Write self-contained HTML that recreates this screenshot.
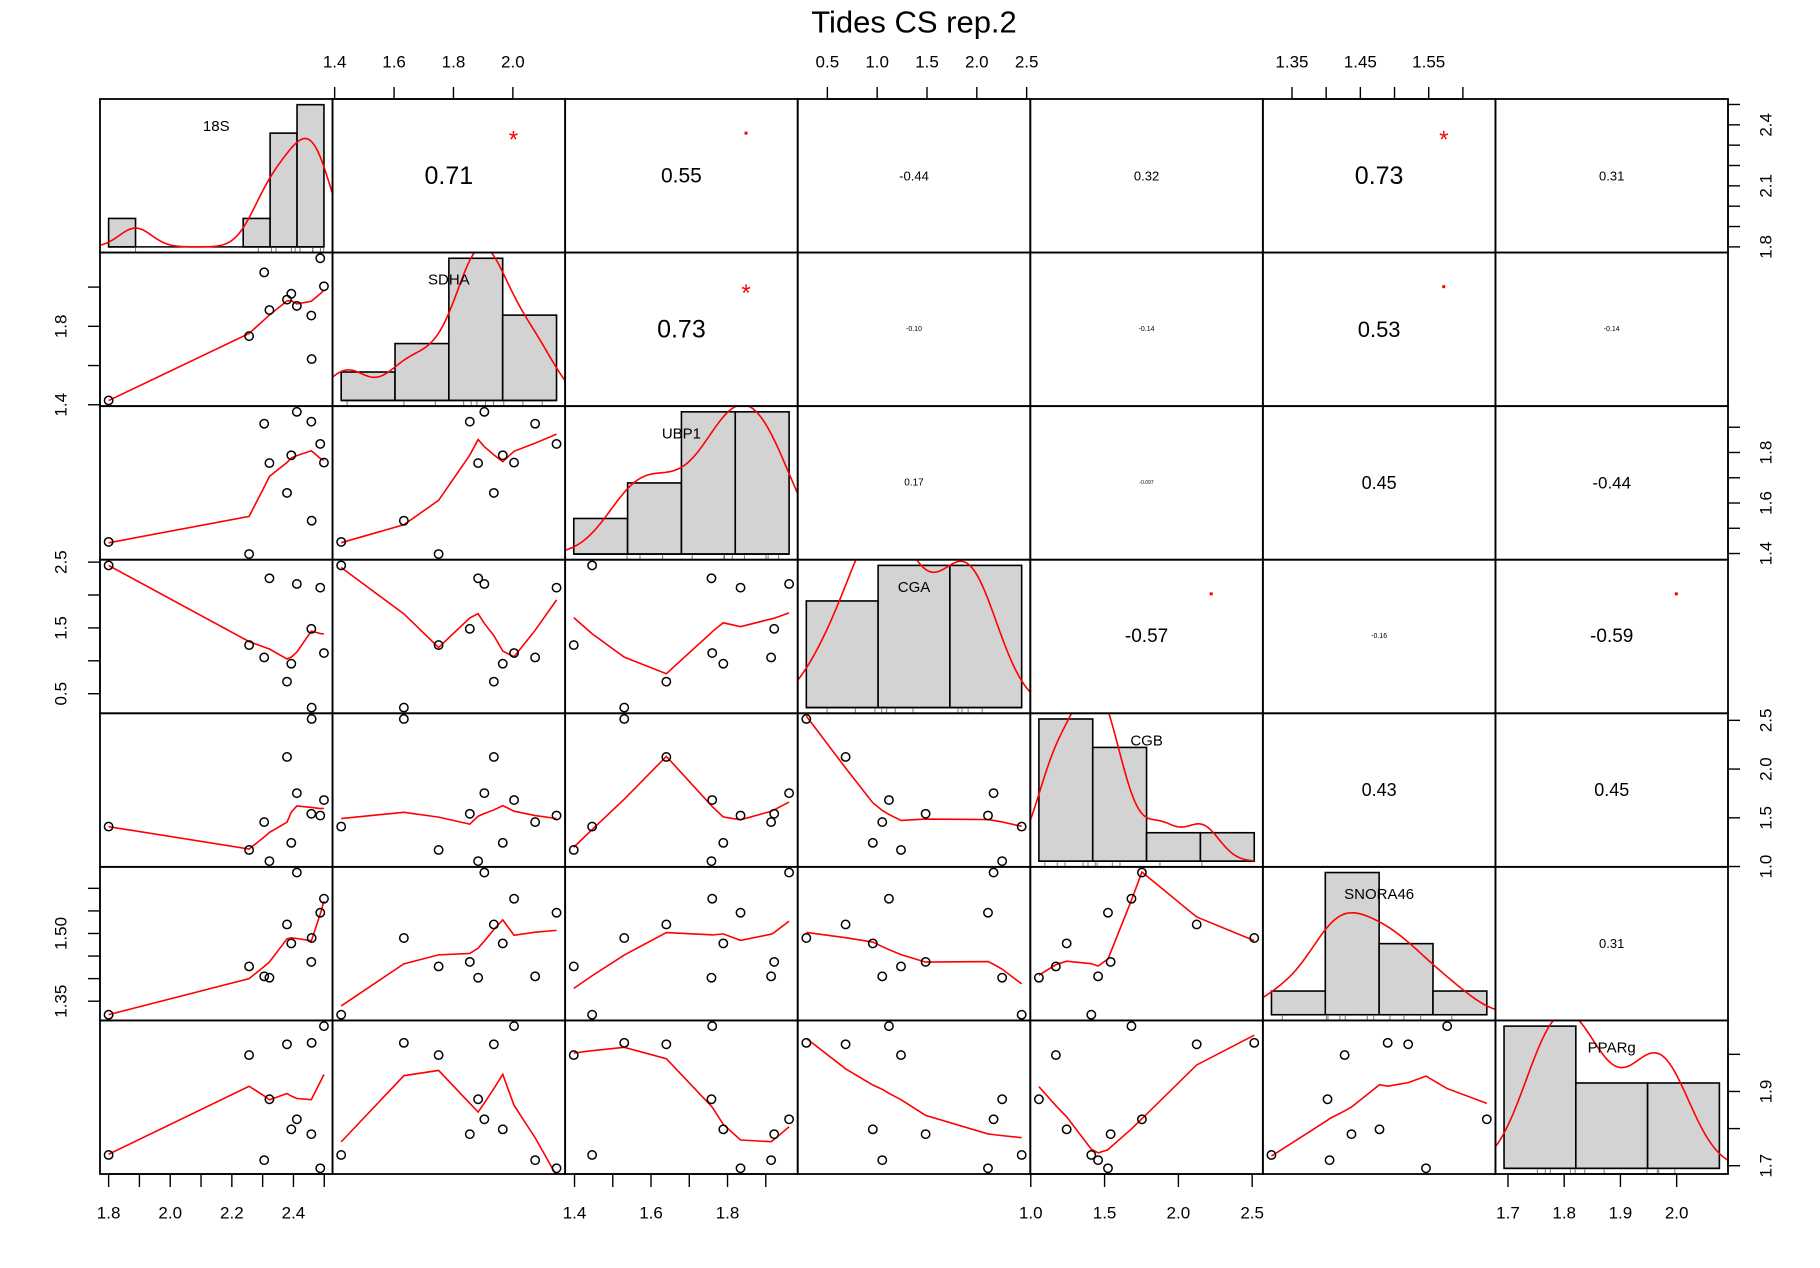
<!DOCTYPE html>
<html>
<head>
<meta charset="utf-8">
<style>
  html,body{margin:0;padding:0;background:#fff;}
  svg{display:block;}
  text{font-family:"Liberation Sans",Arial,sans-serif;}
</style>
</head>
<body>
<svg id="chart" width="1820" height="1268" viewBox="0 0 1820 1268" xmlns="http://www.w3.org/2000/svg">
  <rect x="0" y="0" width="1820" height="1268" fill="#fff"/>
  <text x="914" y="22" font-size="31" text-anchor="middle" dominant-baseline="central">Tides CS rep.2</text>
  <defs id="defs"></defs>
  <g id="panels"></g>
  <g id="axes"></g>
</svg>
<script>
// ---- data (11 samples) ----
const varNames = ["18S","SDHA","UBP1","CGA","CGB","SNORA46","PPARg"];
const v18S    = [1.80,2.256,2.305,2.322,2.379,2.393,2.411,2.458,2.459,2.487,2.499];
const vSDHA   = [1.422,1.750,2.075,1.883,1.936,1.966,1.904,1.855,1.633,2.147,2.004];
const vUBP1   = [1.446,1.398,1.914,1.758,1.640,1.789,1.961,1.922,1.530,1.834,1.760];
const vCGA    = [2.45,1.239,1.051,2.254,0.683,0.956,2.168,1.486,0.289,2.112,1.118];
const vCGB    = [1.41,1.17,1.456,1.055,2.124,1.243,1.753,1.541,2.514,1.523,1.682];
const vSNORA46= [1.320,1.427,1.405,1.402,1.520,1.478,1.635,1.437,1.490,1.546,1.577];
const vPPARg  = [1.729,1.998,1.715,1.879,2.027,1.798,1.825,1.785,2.031,1.693,2.076];
// histogram breaks
const breaks18S    = [1.7,1.8,1.9,2.0,2.1,2.2,2.3,2.4,2.5];
const breaksSDHA   = [1.4,1.6,1.8,2.0,2.2];
const breaksUBP1   = [1.2,1.4,1.6,1.8,2.0];
const breaksCGA    = [0,1,2,3];
const breaksCGB    = [1.0,1.5,2.0,2.5,3.0];
const breaksSNORA46= [1.3,1.4,1.5,1.6,1.7];
const breaksPPARg  = [1.6,1.8,2.0,2.2];
// correlation values printed in the upper triangle (row-major, i<j)
const corText = ["0.71","0.55","-0.44","0.32","0.73","0.31","0.73","-0.10","-0.14","0.53","-0.14","0.17","-0.097","0.45","-0.44","-0.57","-0.16","-0.59","0.43","0.45","0.31"];
const corSig  = ["*",".","","","*","","*","","",".","","","","","",".","",".","","",""];
// axis ticks
const ticks18S  = [1.8,1.9,2.0,2.1,2.2,2.3,2.4,2.5];
const ticksSDHA = [1.4,1.6,1.8,2.0];
const ticksUBP1 = [1.4,1.5,1.6,1.7,1.8,1.9];
const ticksCGA  = [0.5,1.0,1.5,2.0,2.5];
const ticksCGB  = [1.0,1.5,2.0,2.5];
const ticksSNORA= [1.35,1.40,1.45,1.50,1.55,1.60];
const ticksPPARg= [1.7,1.8,1.9,2.0];

// ---- styles / layout (not data) ----
const corFont = [25,21,13,13,25,13,25,7,7,22,7,10,5,18,17,19,7,19,18,18,13];
const X0=100, X1=1728, Y0=99, Y1=1174, N=7;
const W=(X1-X0)/N, H=(Y1-Y0)/N;
const NS="http://www.w3.org/2000/svg";
const svg=document.getElementById('chart');
const gP=document.getElementById('panels');
const gA=document.getElementById('axes');
const defs=document.getElementById('defs');
const data=[v18S,vSDHA,vUBP1,vCGA,vCGB,vSNORA46,vPPARg];
const brks=[breaks18S,breaksSDHA,breaksUBP1,breaksCGA,breaksCGB,breaksSNORA46,breaksPPARg];

function el(tag,attrs,parent){const e=document.createElementNS(NS,tag);for(const k in attrs)e.setAttribute(k,attrs[k]);(parent||gP).appendChild(e);return e;}
function usr(a){const mn=Math.min(...a),mx=Math.max(...a),r=mx-mn;return [mn-0.04*r,mx+0.04*r];}
const U=data.map(usr);
function px(j,v){const u=U[j];return X0+j*W+(v-u[0])/(u[1]-u[0])*W;}
function py(i,v){const u=U[i];return Y0+(i+1)*H-(v-u[0])/(u[1]-u[0])*H;}

function lowess(x,y,f,iter){
  const n=x.length;const idx=[...Array(n).keys()].sort((a,b)=>x[a]-x[b]);
  const xs=idx.map(k=>x[k]),yv=idx.map(k=>y[k]);
  const ns=Math.max(2,Math.min(n,Math.floor(f*n+1e-5)));
  const range=xs[n-1]-xs[0];
  let rw=new Array(n).fill(1),ys=new Array(n).fill(0);
  for(let it=0;it<=iter;it++){
    let nl=0,nr=ns-1;
    for(let i=0;i<n;i++){
      while(nr<n-1 && xs[i]-xs[nl]>xs[nr+1]-xs[i]){nl++;nr++;}
      const h=Math.max(xs[i]-xs[nl],xs[nr]-xs[i]);
      const h9=0.999*h,h1=0.001*h;
      const w=new Array(n).fill(0);let a=0;
      for(let j=0;j<n;j++){const r=Math.abs(xs[j]-xs[i]);
        if(r<=h9){let ww=r<=h1?1:Math.pow(1-Math.pow(r/h,3),3);w[j]=ww*rw[j];a+=w[j];}}
      if(a<=0){ys[i]=yv[i];continue;}
      for(let j=0;j<n;j++)w[j]/=a;
      if(h>0){let m=0;for(let j=0;j<n;j++)m+=w[j]*xs[j];
        let b=xs[i]-m,c=0;for(let j=0;j<n;j++)c+=w[j]*(xs[j]-m)*(xs[j]-m);
        if(Math.sqrt(c)>0.001*range){b/=c;for(let j=0;j<n;j++)w[j]*=(b*(xs[j]-m)+1);}}
      let s=0;for(let j=0;j<n;j++)s+=w[j]*yv[j];ys[i]=s;
    }
    if(it>=iter)break;
    const res=yv.map((v,k)=>Math.abs(v-ys[k]));
    const sr=[...res].sort((a,b)=>a-b);
    const med=n%2?sr[(n-1)/2]:(sr[n/2-1]+sr[n/2])/2;
    const cmad=6*med;
    if(cmad<1e-7)break;
    const c9=0.999*cmad,c1=0.001*cmad;
    rw=res.map(r=>r<=c1?1:(r<=c9?Math.pow(1-(r/cmad)*(r/cmad),2):0));
  }
  return {x:xs,y:ys};
}
function quant(s,p){const h=(s.length-1)*p,lo=Math.floor(h);return s[lo]+(h-lo)*((s[Math.min(lo+1,s.length-1)])-s[lo]);}
function density(a){
  const n=a.length,m=a.reduce((s,v)=>s+v,0)/n;
  const sd=Math.sqrt(a.reduce((s,v)=>s+(v-m)*(v-m),0)/(n-1));
  const s=[...a].sort((p,q)=>p-q);const iqr=quant(s,0.75)-quant(s,0.25);
  let lo=Math.min(sd,iqr/1.34);if(!(lo>0))lo=sd;
  const bw=0.9*lo*Math.pow(n,-0.2);
  const from=s[0]-3*bw,to=s[n-1]+3*bw,out=[];
  for(let k=0;k<256;k++){const x=from+(to-from)*k/255;let d=0;
    for(const v of a){const z=(x-v)/bw;d+=Math.exp(-0.5*z*z);}
    out.push([x,d/(n*bw*Math.sqrt(2*Math.PI))]);}
  return out;
}

for(let i=0;i<N;i++){
  for(let j=0;j<N;j++){
    const x0=X0+j*W,y0=Y0+i*H;
    const cid='clip'+i+'_'+j;
    const cp=el('clipPath',{id:cid},defs);
    el('rect',{x:x0,y:y0,width:W,height:H},cp);
    const g=el('g',{'clip-path':'url(#'+cid+')'});
    
    
    if(i===j){
      const b=brks[i],a=data[i],n=a.length;
      const counts=new Array(b.length-1).fill(0);
      for(const v of a){for(let k=0;k<b.length-1;k++){if((k===0?v>=b[k]:v>b[k])&&v<=b[k+1]+1e-9){counts[k]++;break;}}}
      const dens=counts.map((c,k)=>c/(n*(b[k+1]-b[k])));
      const ymax=Math.max(...dens);
      const bl=b[0],bh=b[b.length-1],br=bh-bl;
      const hx=v=>x0+((v-bl)/br*1+0.04)/1.08*W;
      const hy=v=>y0+H-(0.04+v/ymax)/1.08*H;
      counts.forEach((c,k)=>{
        if(c===0)return;
        const r=el('rect',{x:hx(b[k]),y:hy(dens[k]),width:hx(b[k+1])-hx(b[k]),height:hy(0)-hy(dens[k]),fill:'#d3d3d3',stroke:'#000','stroke-width':1.6},g);
        
        
      });
      const bb=el('line',{x1:hx(bl),x2:hx(bh),y1:hy(0),y2:hy(0),stroke:'#000','stroke-width':1.6},g);
      
      
      const d=density(a).map(p=>hx(p[0]).toFixed(2)+','+hy(p[1]).toFixed(2)).join(' ');
      const dl=el('polyline',{points:d,fill:'none',stroke:'#ff0000','stroke-width':1.6},g);
      
      
      for(const v of a){
        const rl=el('line',{x1:hx(v),x2:hx(v),y1:y0+H,y2:y0+H-4.6,stroke:'#777','stroke-width':1},g);
        
        
      }
      const t=el('text',{x:x0+W/2,y:y0+H*0.18,'font-size':15,'text-anchor':'middle','dominant-baseline':'central'},g);
      t.textContent=varNames[i];
      
      
    } else if(i>j){
      const xs=data[j],ys=data[i];
      const lw=lowess(xs,ys,2/3,3);
      const pts=lw.x.map((v,k)=>px(j,v).toFixed(2)+','+py(i,lw.y[k]).toFixed(2)).join(' ');
      const sl=el('polyline',{points:pts,fill:'none',stroke:'#ff0000','stroke-width':1.6},g);
      
      
      xs.forEach((v,k)=>{
        const c=el('circle',{cx:px(j,v),cy:py(i,ys[k]),r:4.2,fill:'none',stroke:'#000','stroke-width':1.5},g);
        
        
      });
    } else {
      let idx=0;for(let a=0;a<i;a++)idx+=N-1-a;idx+=j-i-1;
      const t=el('text',{x:x0+W/2,y:y0+H/2,'font-size':corFont[idx],'text-anchor':'middle','dominant-baseline':'central'},g);
      t.textContent=corText[idx];
      
      
      const sx=x0+W*0.84/1.08,sy=y0+H-H*0.84/1.08;
      if(corSig[idx]==='*'){
        const s=el('text',{x:sx,y:sy+7,'font-size':24,fill:'#ff0000','text-anchor':'middle','dominant-baseline':'central'},g);
        s.textContent='*';
        
        
      } else if(corSig[idx]==='.'){
        const s=el('rect',{x:sx-1.5,y:sy-1.5,width:3,height:3,fill:'#ff0000'},g);
        
        
      }
    }
    const bx=el('rect',{x:x0,y:y0,width:W,height:H,fill:'none',stroke:'#000','stroke-width':1.8});
    
    
  }
}

// ---- axes ----
function axis(side,k,ticks,labels,dig){
  const g=el('g',{},gA);
  
  
  const pos=ticks.map(v=>(side==='top'||side==='bottom')?px(k,v):py(k,v));
  const ln={stroke:'#000','stroke-width':1.4};
  const has=v=>labels.some(l=>Math.abs(l-v)<1e-9);
  if(side==='top'||side==='bottom'){
    const yb=side==='top'?Y0:Y1,dy=side==='top'?-12:13;
    el('line',Object.assign({x1:pos[0],x2:pos[pos.length-1],y1:yb,y2:yb},ln),g);
    ticks.forEach((v,q)=>{
      el('line',Object.assign({x1:pos[q],x2:pos[q],y1:yb,y2:yb+dy},ln),g);
      if(has(v)){
        const t=el('text',{x:pos[q],y:side==='top'?62:1213,'font-size':17,'text-anchor':'middle','dominant-baseline':'central'},g);
        t.textContent=v.toFixed(dig);
        
        
      }
    });
  } else {
    const xb=side==='left'?X0:X1,dx=side==='left'?-12:12,lx=side==='left'?61:1766;
    el('line',Object.assign({x1:xb,x2:xb,y1:pos[0],y2:pos[pos.length-1]},ln),g);
    ticks.forEach((v,q)=>{
      el('line',Object.assign({x1:xb,x2:xb+dx,y1:pos[q],y2:pos[q]},ln),g);
      if(has(v)){
        const t=el('text',{x:lx,y:pos[q],'font-size':17,'text-anchor':'middle','dominant-baseline':'central',transform:'rotate(-90 '+lx+' '+pos[q]+')'},g);
        t.textContent=v.toFixed(dig);
        
        
      }
    });
  }
}
axis('top',1,ticksSDHA,[1.4,1.6,1.8,2.0],1);
axis('top',3,ticksCGA,[0.5,1.0,1.5,2.0,2.5],1);
axis('top',5,ticksSNORA,[1.35,1.45,1.55],2);
axis('bottom',0,ticks18S,[1.8,2.0,2.2,2.4],1);
axis('bottom',2,ticksUBP1,[1.4,1.6,1.8],1);
axis('bottom',4,ticksCGB,[1.0,1.5,2.0,2.5],1);
axis('bottom',6,ticksPPARg,[1.7,1.8,1.9,2.0],1);
axis('left',1,ticksSDHA,[1.4,1.8],1);
axis('left',3,ticksCGA,[0.5,1.5,2.5],1);
axis('left',5,ticksSNORA,[1.35,1.50],2);
axis('right',0,ticks18S,[1.8,2.1,2.4],1);
axis('right',2,ticksUBP1,[1.4,1.6,1.8],1);
axis('right',4,ticksCGB,[1.0,1.5,2.0,2.5],1);
axis('right',6,ticksPPARg,[1.7,1.9],1);
</script>
</body>
</html>
